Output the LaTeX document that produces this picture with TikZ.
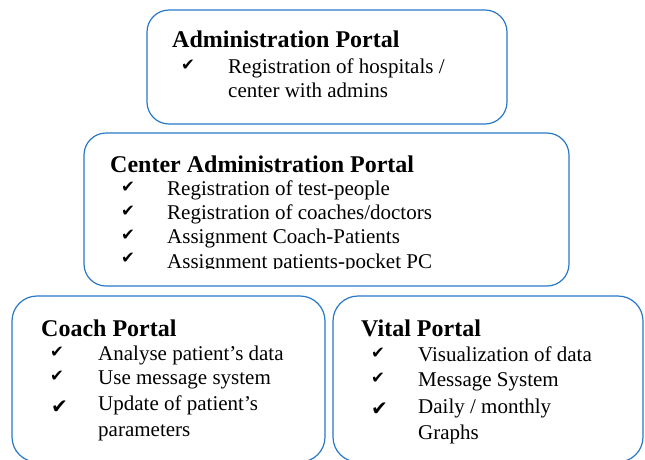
\documentclass[tikz,border=0pt]{standalone}
\usepackage{fontspec}
\setmainfont{Liberation Serif}
\newfontfamily\checkfont{DejaVu Sans}
\definecolor{portalblue}{RGB}{40,120,200}
\newcommand{\tick}{\checkfont ✔}
\tikzset{
  portal/.style={draw=portalblue, line width=1.2pt, rounded corners=22pt, inner sep=0pt},
  ttl/.style={anchor=base west, inner sep=0pt, font=\fontsize{24}{28}\bfseries\selectfont},
  itm/.style={anchor=base west, inner sep=0pt, font=\fontsize{21}{24}\selectfont},
  chk/.style={anchor=base west, inner sep=0pt, font=\fontsize{16.5}{19}\selectfont},
  bigchk/.style={chk, font=\fontsize{20}{23}\selectfont},
}
\begin{document}
\begin{tikzpicture}[x=1pt, y=-1pt]
  \useasboundingbox (0,0) rectangle (645,459);
  \clip (0,0) rectangle (645,459);
  % Boxes
  \node[portal, minimum width=360pt, minimum height=114pt] (adm) at (327,67) {};
  \node[portal, minimum width=485pt, minimum height=153pt] (cen) at (326.5,209.5) {};
  \node[portal, minimum width=313pt, minimum height=166pt, rounded corners=25pt] (coach) at (168.5,379) {};
  \node[portal, minimum width=310pt, minimum height=166pt, rounded corners=25pt] (vital) at (488,379) {};

  % Administration portal
  \node[ttl] (admt) at (172,47) {Administration Portal};
  \node[chk] (admc1) at (181,70) {\tick};
  \node[itm] (adm1) at (228,73) {Registration of hospitals /};
  \node[itm] (adm2) at (228,97) {center with admins};

  % Center administration portal
  \node[ttl] (cent) at (110,172) {Center Administration Portal};
  \node[chk] (cenc1) at (121,192) {\tick};
  \node[itm] (cen1) at (167,195) {Registration of test-people};
  \node[chk] (cenc2) at (121,216) {\tick};
  \node[itm] (cen2) at (167,219) {Registration of coaches/doctors};
  \node[chk] (cenc3) at (121,240) {\tick};
  \node[itm] (cen3) at (167,243) {Assignment Coach-Patients};
  \node[chk] (cenc4) at (121,263) {\tick};
  \begin{scope}
    \clip (0,0) rectangle (645,268);
    \node[itm] (cen4) at (167,268) {Assignment patients-pocket PC};
  \end{scope}

  % Coach portal
  \node[ttl] (coacht) at (41,336) {Coach Portal};
  \node[chk] (coachc1) at (50,357) {\tick};
  \node[itm] (coach1) at (98,360) {Analyse patient’s data};
  \node[chk] (coachc2) at (50,381) {\tick};
  \node[itm] (coach2) at (98,384) {Use message system};
  \node[bigchk] (coachc3) at (51,413) {\tick};
  \node[itm] (coach3) at (98,410) {Update of patient’s};
  \node[itm] (coach4) at (98,436) {parameters};

  % Vital portal
  \node[ttl] (vitalt) at (361,336) {Vital Portal};
  \node[chk] (vitalc1) at (371,358) {\tick};
  \node[itm] (vital1) at (418,361) {Visualization of data};
  \node[chk] (vitalc2) at (371,383) {\tick};
  \node[itm] (vital2) at (418,386) {Message System};
  \node[bigchk] (vitalc3) at (371,415) {\tick};
  \node[itm] (vital3) at (418,413) {Daily / monthly};
  \node[itm] (vital4) at (418,439) {Graphs};
\end{tikzpicture}
\end{document}
